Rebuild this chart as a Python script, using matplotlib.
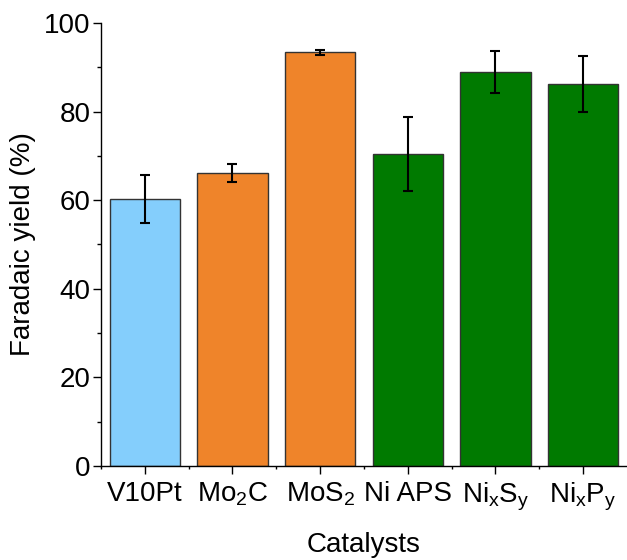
import matplotlib
matplotlib.use("Agg")
import matplotlib.pyplot as plt
from matplotlib.ticker import MultipleLocator, FixedLocator

plt.rcParams['font.family'] = ['Liberation Sans', 'DejaVu Sans']
plt.rcParams['mathtext.fontset'] = 'custom'
plt.rcParams['mathtext.rm'] = 'Liberation Sans'
plt.rcParams['mathtext.it'] = 'Liberation Sans'

categories = ['V10Pt', r'Mo$_\mathregular{2}$C', r'MoS$_\mathregular{2}$', 'Ni APS',
              r'Ni$_\mathregular{x}$S$_\mathregular{y}$', r'Ni$_\mathregular{x}$P$_\mathregular{y}$']
values = [60.3, 66.1, 93.4, 70.4, 89.0, 86.2]
errors = [5.4, 1.95, 0.6, 8.35, 4.75, 6.25]
colors = ['#84CEFC', '#EF842A', '#EF842A', '#007A00', '#007A00', '#007A00']

fig = plt.figure(figsize=(6.27, 5.6), dpi=100)
ax = fig.add_axes([0.161, 0.168, 0.839, 0.791])

x = list(range(len(categories)))
ax.bar(x, values, width=0.8, color=colors, edgecolor='#333333', linewidth=1.0, zorder=2)
ax.errorbar(x, values, yerr=errors, fmt='none', ecolor='black', elinewidth=1.5,
            capsize=3.5, capthick=1.5, zorder=3)

ax.set_xlim(-0.5, 5.5)
ax.set_ylim(0, 100)
ax.set_xticks(x)
ax.set_xticklabels(categories, fontsize=20)
ax.xaxis.set_minor_locator(FixedLocator([i - 0.5 for i in range(len(categories))]))
ax.yaxis.set_major_locator(MultipleLocator(20))
ax.yaxis.set_minor_locator(MultipleLocator(10))
ax.tick_params(axis='both', which='major', direction='out', length=5.5, width=1.0,
               labelsize=20, pad=2)
ax.tick_params(axis='x', which='major', pad=5)
ax.tick_params(axis='both', which='minor', direction='out', length=3, width=1.0)
ax.tick_params(axis='x', which='minor', length=2.5)

for s in ['top', 'right']:
    ax.spines[s].set_visible(False)
for s in ['left', 'bottom']:
    ax.spines[s].set_linewidth(1.0)

ax.set_xlabel('Catalysts', fontsize=20, labelpad=14)
ax.set_ylabel('Faradaic yield (%)', fontsize=20, labelpad=6)

fig.savefig('out.png', dpi=100)
